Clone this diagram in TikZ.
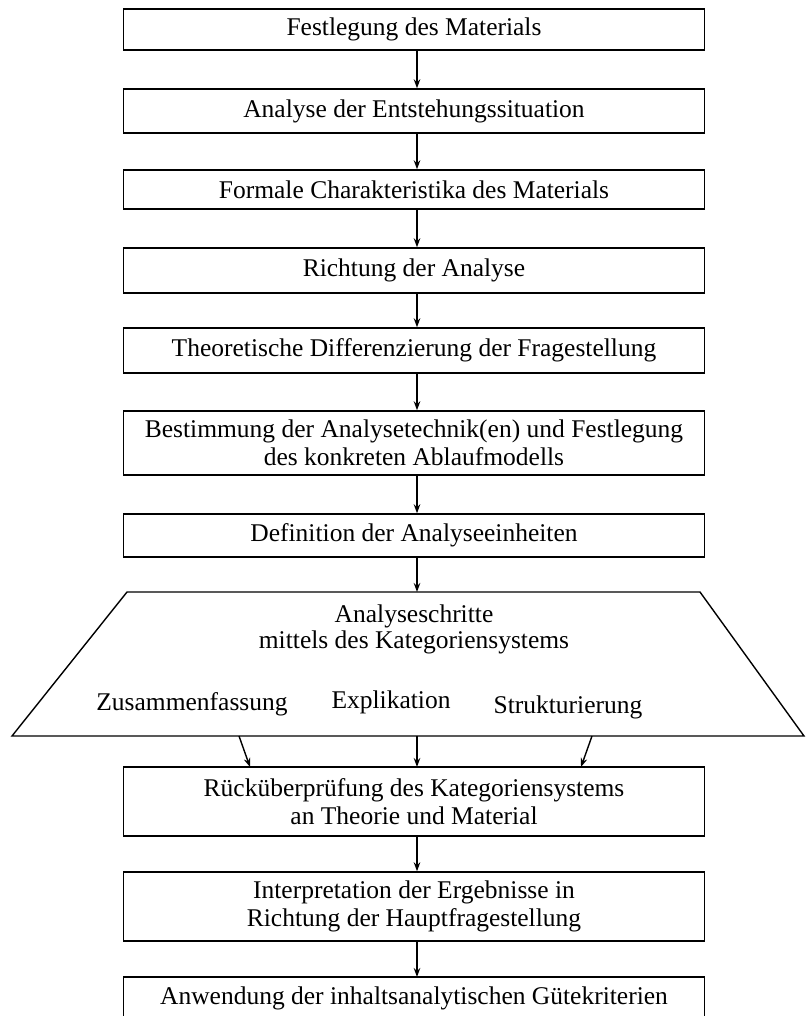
\documentclass[tikz,border=0pt]{standalone}
\usepackage{fontspec}
\setmainfont{Liberation Serif}
\usetikzlibrary{arrows.meta}
\begin{document}
\begin{tikzpicture}[x=1pt,y=-1pt,
  box/.style={draw,line width=1.4pt,minimum width=581pt,inner sep=0pt,align=center,font=\fontsize{25.5}{28}\selectfont},
  txt/.style={inner sep=0pt,align=center,font=\fontsize{25.5}{28}\selectfont},
  arr/.style={line width=1.4pt,-{Stealth[length=9pt,width=6.5pt]}},
  edge/.style={line width=1.4pt}]
\useasboundingbox (0,0) rectangle (805,1016);
\node[box,minimum height=41pt] (b1) at (414,29.5) {Festlegung des Materials};
\node[box,minimum height=44pt] (b2) at (414,111) {Analyse der Entstehungssituation};
\node[box,minimum height=39pt] (b3) at (414,189.5) {Formale Charakteristika des Materials};
\node[box,minimum height=45pt] (b4) at (414,270.5) {Richtung der Analyse};
\node[box,minimum height=45pt] (b5) at (414,350.5) {Theoretische Differenzierung der Fragestellung};
\node[box,minimum height=64pt] (b6) at (414,443) {Bestimmung der Analysetechnik(en) und Festlegung\\des konkreten Ablaufmodells};
\node[box,minimum height=43pt] (b7) at (414,535.5) {Definition der Analyseeinheiten};
% trapezoid
\coordinate (tl) at (127,592);
\coordinate (tr) at (700,592);
\coordinate (br) at (804,736);
\coordinate (bl) at (12,736);
\coordinate (ttop) at (417,592);
\coordinate (tb1) at (239,736);
\coordinate (tb2) at (417,736);
\coordinate (tb3) at (592,736);
\draw[edge,line join=miter] (tl) -- (tr) -- (br) -- (bl) -- cycle;
\node[txt,anchor=base] (t1) at (414,622) {Analyseschritte};
\node[txt,anchor=base] (t2) at (414,648) {mittels des Kategoriensystems};
\node[txt,anchor=base] (t3) at (192,710) {Zusammenfassung};
\node[txt,anchor=base] (t4) at (391,708) {Explikation};
\node[txt,anchor=base] (t5) at (568,713) {Strukturierung};
\node[box,minimum height=69pt] (b8) at (414,801.5) {Rücküberprüfung des Kategoriensystems\\an Theorie und Material};
\node[box,minimum height=69pt] (b9) at (414,906.5) {Interpretation der Ergebnisse in\\Richtung der Hauptfragestellung};
\node[txt] (b10) at (414,998) {Anwendung der inhaltsanalytischen Gütekriterien};
\coordinate (b10tl) at (123.5,977);
\coordinate (b10tr) at (704.5,977);
\coordinate (b10bl) at (123.5,1020);
\coordinate (b10br) at (704.5,1020);
\draw[edge] (b10bl) -- (b10tl) -- (b10tr) -- (b10br);
\coordinate (b8a) at (250,767);
\coordinate (b8b) at (417,767);
\coordinate (b8c) at (581,767);
\coordinate (b10top) at (417,977);
% arrows
\draw[arr] ([xshift=3pt]b1.south) -- ([xshift=3pt]b2.north);
\draw[arr] ([xshift=3pt]b2.south) -- ([xshift=3pt]b3.north);
\draw[arr] ([xshift=3pt]b3.south) -- ([xshift=3pt]b4.north);
\draw[arr] ([xshift=3pt]b4.south) -- ([xshift=3pt]b5.north);
\draw[arr] ([xshift=3pt]b5.south) -- ([xshift=3pt]b6.north);
\draw[arr] ([xshift=3pt]b6.south) -- ([xshift=3pt]b7.north);
\draw[arr] ([xshift=3pt]b7.south) -- (ttop);
\draw[arr] (tb1) -- (b8a);
\draw[arr] (tb2) -- (b8b);
\draw[arr] (tb3) -- (b8c);
\draw[arr] ([xshift=3pt]b8.south) -- ([xshift=3pt]b9.north);
\draw[arr] ([xshift=3pt]b9.south) -- (b10top);
\end{tikzpicture}
\end{document}
